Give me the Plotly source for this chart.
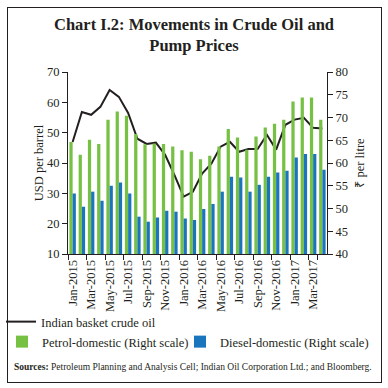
import plotly.graph_objects as go

months = ["Jan-2015","Feb-2015","Mar-2015","Apr-2015","May-2015","Jun-2015","Jul-2015","Aug-2015",
          "Sep-2015","Oct-2015","Nov-2015","Dec-2015","Jan-2016","Feb-2016","Mar-2016","Apr-2016",
          "May-2016","Jun-2016","Jul-2016","Aug-2016","Sep-2016","Oct-2016","Nov-2016","Dec-2016",
          "Jan-2017","Feb-2017","Mar-2017","Apr-2017"]
crude = [46.9, 56.8, 55.9, 58.5, 64.1, 61.8, 56.5, 48.0, 46.3, 46.7, 42.7, 36.1, 28.9, 30.5,
         36.5, 39.8, 45.4, 47.0, 43.7, 44.6, 44.6, 49.3, 44.4, 52.6, 54.3, 54.9, 51.6, 51.4]
petrol = [64.6, 61.8, 65.1, 64.2, 69.5, 71.3, 70.4, 66.4, 64.1, 64.3, 64.2, 63.6, 62.8, 62.5,
          60.8, 61.6, 63.6, 67.5, 65.6, 62.9, 65.8, 67.8, 68.6, 69.5, 73.5, 74.4, 74.4, 69.5]
diesel = [53.3, 50.4, 53.7, 51.7, 55.0, 55.7, 53.3, 48.2, 47.1, 48.0, 49.5, 49.3, 47.8, 47.5,
          49.9, 51.0, 53.7, 57.0, 56.8, 53.7, 55.2, 57.0, 57.9, 58.3, 61.2, 62.0, 62.0, 58.5]
tick_labels = months[::2]

FONT = "Liberation Serif"
GREEN = "#76C043"
BLUE = "#1B75BC"
INK = "#231F20"

fig = go.Figure()
fig.add_trace(go.Bar(x=months, y=petrol, name="Petrol-domestic (Right scale)", showlegend=True,
                     marker=dict(color=GREEN, line=dict(width=0)), yaxis="y2", legend="legend2"))
fig.add_trace(go.Bar(x=months, y=diesel, name="Diesel-domestic (Right scale)", showlegend=True,
                     marker=dict(color=BLUE, line=dict(width=0)), yaxis="y2", legend="legend3"))
fig.add_trace(go.Scatter(x=months, y=crude, name="Indian basket crude oil", mode="lines", showlegend=True,
                         line=dict(color=INK, width=2), yaxis="y", legend="legend"))

L, R, T, B = 68, 61, 72, 134
pw, ph = 388 - L - R, 388 - T - B

def leg(x, y):
    return dict(orientation="h", xref="container", yref="container", x=x/388, y=1 - y/388,
                xanchor="left", yanchor="middle", font=dict(size=12.5, family=FONT, color=INK),
                bgcolor="rgba(0,0,0,0)", itemwidth=30)

def px_x(p):
    return (p - L) / pw

def px_y(p):
    return (388 - B - p) / ph

fig.update_layout(
    width=388, height=388,
    margin=dict(l=L, r=R, t=T, b=B, pad=0, autoexpand=False),
    paper_bgcolor="white", plot_bgcolor="white", showlegend=True,
    font=dict(family=FONT, color=INK, size=12),
    barmode="group", bargap=0.3, bargroupgap=0,
    title=dict(text="<b>Chart I.2: Movements in Crude Oil and<br>Pump Prices</b>",
               x=0.5, xanchor="center", xref="container",
               y=1 - 30/388, yanchor="top", yref="container",
               font=dict(family=FONT, size=16.5, color=INK)),
    xaxis=dict(type="category", categoryorder="array", categoryarray=months,
               tickmode="array", tickvals=tick_labels, ticktext=tick_labels,
               tickson="boundaries", ticks="outside", ticklen=5, tickcolor=INK,
               tickangle=-90, tickfont=dict(size=12.5, family=FONT), automargin=False,
               showline=True, linecolor=INK, linewidth=1, showgrid=False,
               range=[-0.5, len(months) - 0.5]),
    yaxis=dict(range=[10, 70], dtick=10, ticks="outside", ticklen=5, tickcolor=INK, automargin=False,
               showline=True, linecolor=INK, linewidth=1, showgrid=False, zeroline=False,
               tickfont=dict(size=12.5), title=dict(text="USD per barrel", font=dict(size=12.5), standoff=0)),
    yaxis2=dict(range=[40, 80], dtick=5, overlaying="y", side="right", ticks="outside", ticklen=5,
                tickcolor=INK, showline=True, linecolor=INK, linewidth=1, automargin=False,
                showgrid=False, zeroline=False, tickfont=dict(size=12.5),
                title=dict(text="₹ per litre", font=dict(size=12.5), standoff=8)),
    legend=leg(1, 322),
    legend2=leg(2, 342),
    legend3=leg(180, 342),
    annotations=[dict(text="<b>Sources:</b> Petroleum Planning and Analysis Cell; Indian Oil Corporation Ltd.; and Bloomberg.",
                      xref="paper", yref="paper", x=px_x(12), y=px_y(367),
                      xanchor="left", yanchor="middle", showarrow=False,
                      font=dict(size=9.5, family=FONT, color=INK))],
)

post = ("document.body.style.margin='0';"
        "var b=document.createElement('div');"
        "b.style.cssText='position:absolute;left:7px;top:7px;width:373px;height:374px;"
        "border:1px solid #231F20;pointer-events:none;z-index:1000;box-sizing:content-box;';"
        "document.body.appendChild(b);")

fig.write_html("out.html", config={"displayModeBar": False}, post_script=post)
